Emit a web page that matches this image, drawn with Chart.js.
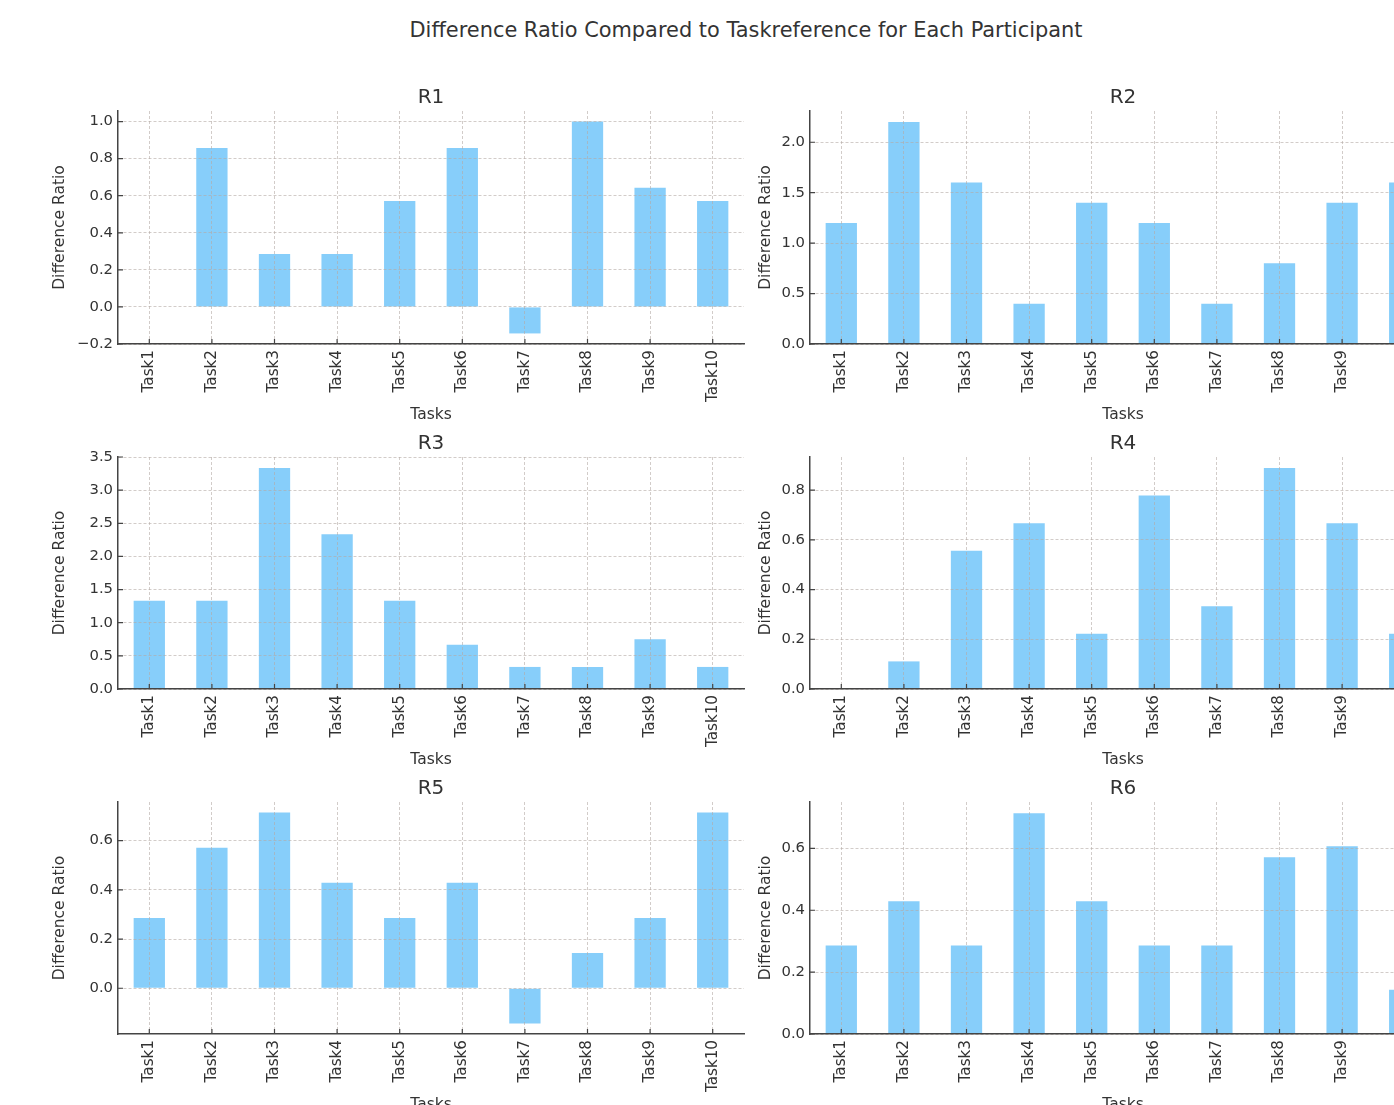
<!DOCTYPE html>
<html>
<head>
<meta charset="utf-8">
<title>Difference Ratio per Participant</title>
<script src="https://cdn.jsdelivr.net/npm/chart.js@4.4.0/dist/chart.umd.min.js"></script>
<style>
  html, body { margin: 0; padding: 0; background: #fff; overflow: hidden; }
  #page { position: relative; width: 1394px; height: 1105px; overflow: hidden; }
  #suptitle {
    position: absolute; left: 746px; top: 18px; transform: translateX(-50%);
    font: 20.9px "DejaVu Sans"; line-height: 24px; color: #333; white-space: nowrap;
  }
  canvas { position: absolute; }
</style>
</head>
<body>
<div id="page">
  <div id="suptitle">Difference Ratio Compared to Taskreference for Each Participant</div>
  <canvas id="r1" width="710" height="354" style="left:40px;top:70px"></canvas>
  <canvas id="r2" width="700" height="354" style="left:750px;top:70px"></canvas>
  <canvas id="r3" width="710" height="353" style="left:40px;top:416px"></canvas>
  <canvas id="r4" width="700" height="353" style="left:750px;top:416px"></canvas>
  <canvas id="r5" width="710" height="353" style="left:40px;top:761px"></canvas>
  <canvas id="r6" width="700" height="353" style="left:750px;top:761px"></canvas>
</div>
<script>
// data
const tasks = ['Task1', 'Task2', 'Task3', 'Task4', 'Task5', 'Task6', 'Task7', 'Task8', 'Task9', 'Task10'];
const r1 = [0, 0.857, 0.286, 0.286, 0.571, 0.857, -0.143, 1.0, 0.643, 0.571];
const r2 = [1.2, 2.2, 1.6, 0.4, 1.4, 1.2, 0.4, 0.8, 1.4, 1.6];
const r3 = [1.333, 1.333, 3.333, 2.333, 1.333, 0.667, 0.333, 0.333, 0.75, 0.333];
const r4 = [0, 0.111, 0.556, 0.667, 0.222, 0.778, 0.333, 0.889, 0.667, 0.222];
const r5 = [0.286, 0.571, 0.714, 0.429, 0.286, 0.429, -0.143, 0.143, 0.286, 0.714];
const r6 = [0.286, 0.429, 0.286, 0.714, 0.429, 0.286, 0.286, 0.571, 0.607, 0.143];
const participants = ['R1', 'R2', 'R3', 'R4', 'R5', 'R6'];
const yStep = [0.2, 0.5, 0.5, 0.2, 0.2, 0.2];

const BAR = '#87CEFA';
const TEXT = '#333';
const AXIS = '#444';
const GRID = 'rgba(180,170,165,0.6)';

Chart.defaults.font.family = '"DejaVu Sans", sans-serif';
Chart.defaults.color = TEXT;

// matplotlib style limits: 5% margin, bars stick to zero
function limits(values) {
  const lo = Math.min(0, ...values);
  const hi = Math.max(0, ...values);
  const m = (hi - lo) * 0.05;
  const r = (v) => Math.round(v * 1000) / 1000;
  return { min: lo < 0 ? r(lo - m) : 0, max: hi > 0 ? r(hi + m) : 0 };
}

function fmt(v) {
  if (Math.abs(v) < 1e-9) return '0.0';
  return (v < 0 ? '\u2212' : '') + Math.abs(v).toFixed(1);
}

// ticks pointing into the plot, like the original
const inwardTicks = {
  id: 'inwardTicks',
  afterDraw(chart) {
    const { ctx, chartArea, scales: { x, y } } = chart;
    ctx.save();
    ctx.strokeStyle = AXIS;
    ctx.lineWidth = 1.2;
    ctx.beginPath();
    x.ticks.forEach((t, i) => {
      const px = x.getPixelForTick(i);
      ctx.moveTo(px, chartArea.bottom);
      ctx.lineTo(px, chartArea.bottom - 5);
    });
    y.ticks.forEach((t, i) => {
      const py = y.getPixelForTick(i);
      ctx.moveTo(chartArea.left, py);
      ctx.lineTo(chartArea.left + 5, py);
    });
    ctx.stroke();
    ctx.restore();
  }
};

function makePanel(id, title, values, step, leftCol) {
  const lim = limits(values);
  new Chart(document.getElementById(id), {
    type: 'bar',
    data: {
      labels: tasks,
      datasets: [{
        data: values,
        backgroundColor: BAR,
        borderWidth: 0,
        categoryPercentage: 0.5,
        barPercentage: 1.0,
      }],
    },
    options: {
      responsive: false,
      animation: false,
      layout: { padding: { left: 0, right: leftCol ? 6 : 14, top: 0, bottom: 0 } },
      plugins: {
        legend: { display: false },
        tooltip: { enabled: false },
        title: {
          display: true,
          text: title,
          fullSize: false,
          color: TEXT,
          font: { size: 20, weight: 'normal' },
          padding: { top: 16, bottom: 1 },
        },
      },
      scales: {
        x: {
          offset: true,
          grid: { offset: false, color: GRID, lineWidth: 1, drawTicks: false, z: 1 },
          border: { color: AXIS, width: 1.5, dash: [3, 2], z: 2 },
          ticks: {
            autoSkip: false,
            minRotation: 90,
            maxRotation: 90,
            padding: 6,
            color: TEXT,
            font: { size: 15.2 },
          },
          title: {
            display: true,
            text: 'Tasks',
            color: TEXT,
            font: { size: 15.5 },
            padding: { top: 0, bottom: 0 },
          },
          afterFit: (s) => { s.height = 80; },
        },
        y: {
          min: lim.min,
          max: lim.max,
          grid: { color: GRID, lineWidth: 1, drawTicks: false, z: 1 },
          border: { color: AXIS, width: 1.5, dash: [3, 2], z: 2 },
          ticks: {
            stepSize: step,
            includeBounds: false,
            padding: 5,
            color: TEXT,
            font: { size: 14.8 },
            callback: (v) => fmt(v),
          },
          title: {
            display: true,
            text: 'Difference Ratio',
            color: TEXT,
            font: { size: 15.5 },
            padding: { top: leftCol ? 10.7 : 6.7, bottom: 0 },
          },
          afterFit: (s) => { s.width = leftCol ? 78 : 60; },
        },
      },
    },
    plugins: [inwardTicks],
  });
}

const series = [r1, r2, r3, r4, r5, r6];
participants.forEach((name, i) => {
  makePanel(name.toLowerCase(), name, series[i], yStep[i], i % 2 === 0);
});
</script>
</body>
</html>
